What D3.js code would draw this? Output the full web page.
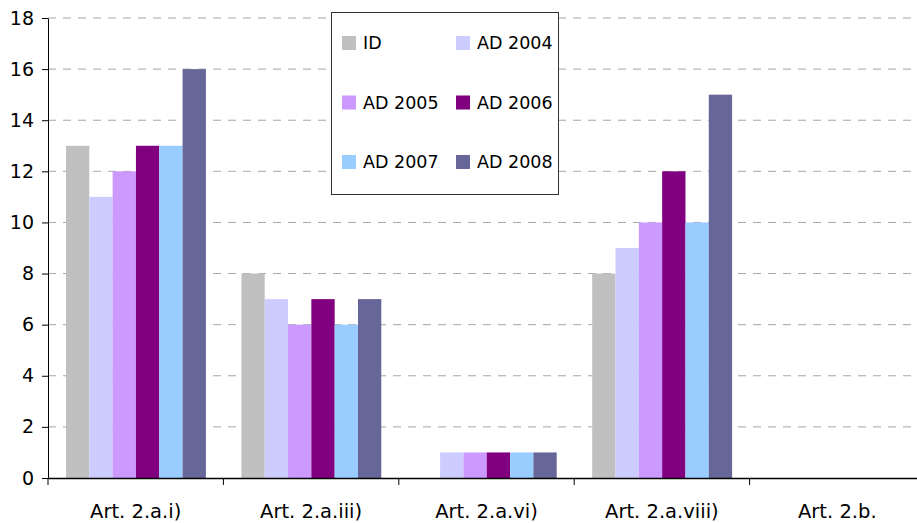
<!DOCTYPE html>
<html>
<head>
<meta charset="utf-8">
<script src="https://cdn.jsdelivr.net/npm/d3@7"></script>
<style>
  body { margin: 0; background: #fff; }
  text { font-family: "DejaVu Sans", sans-serif; fill: #000; }
</style>
</head>
<body>
<svg width="917" height="523"></svg>
<script>
const categories = ["Art. 2.a.i)", "Art. 2.a.iii)", "Art. 2.a.vi)", "Art. 2.a.viii)", "Art. 2.b."];
const seriesNames = ["ID", "AD 2004", "AD 2005", "AD 2006", "AD 2007", "AD 2008"];
const idVals = [13, 8, 0, 8, 0];
const ad2004 = [11, 7, 1, 9, 0];
const ad2005 = [12, 6, 1, 10, 0];
const ad2006 = [13, 7, 1, 12, 0];
const ad2007 = [13, 6, 1, 10, 0];
const ad2008 = [16, 7, 1, 15, 0];
const yTicks = [0, 2, 4, 6, 8, 10, 12, 14, 16, 18];
const colors = ["#C0C0C0", "#CCCCFF", "#CC99FF", "#800080", "#99CCFF", "#666699"];

const allSeries = [idVals, ad2004, ad2005, ad2006, ad2007, ad2008];

const svg = d3.select("svg");
const plotLeft = 48, plotRight = 925, plotTop = 18, plotBottom = 478;

const x = d3.scaleBand().domain(categories).range([plotLeft, plotRight]).paddingInner(0).paddingOuter(0);
const xInner = d3.scaleBand().domain(seriesNames).range([18, x.bandwidth() - 17.5]);
const y = d3.scaleLinear().domain([0, 18]).range([plotBottom, plotTop]);

// grid lines
svg.append("g")
  .selectAll("line")
  .data(yTicks.filter(d => d > 0))
  .enter().append("line")
  .attr("x1", plotLeft).attr("x2", 917)
  .attr("y1", d => y(d)).attr("y2", d => y(d))
  .attr("stroke", "#a6a6a6")
  .attr("stroke-width", 1)
  .attr("stroke-dasharray", "8,7");

// bars
const groups = svg.append("g")
  .selectAll("g")
  .data(categories)
  .enter().append("g")
  .attr("transform", d => `translate(${x(d)},0)`);

groups.selectAll("rect")
  .data((c, ci) => seriesNames.map((s, si) => ({s, si, v: allSeries[si][ci]})))
  .enter().append("rect")
  .attr("x", d => xInner(d.s))
  .attr("y", d => y(d.v))
  .attr("width", xInner.bandwidth())
  .attr("height", d => plotBottom - y(d.v))
  .attr("fill", d => colors[d.si]);

// y axis
const yAxis = svg.append("g")
  .attr("transform", `translate(${plotLeft},0)`)
  .call(d3.axisLeft(y).tickValues(yTicks).tickSize(6).tickPadding(8).tickSizeOuter(0));
yAxis.select(".domain").attr("stroke", "#000");
yAxis.selectAll("line").attr("stroke", "#000");
yAxis.selectAll("text")
  .style("font-size", "19px")
  .style("font-family", "'DejaVu Sans', sans-serif");

// x axis
const xAxis = svg.append("g")
  .attr("transform", `translate(0,${plotBottom})`)
  .call(d3.axisBottom(x).tickSize(0).tickPadding(26).tickSizeOuter(0));
xAxis.select(".domain").attr("stroke", "#000").attr("stroke-width", 1.5);
xAxis.selectAll("text")
  .style("font-size", "19.5px")
  .style("font-family", "'DejaVu Sans', sans-serif");

// x boundary ticks
svg.append("g")
  .selectAll("line")
  .data(categories)
  .enter().append("line")
  .attr("x1", d => x(d)).attr("x2", d => x(d))
  .attr("y1", plotBottom).attr("y2", plotBottom + 7)
  .attr("stroke", "#000");

// legend
const legend = svg.append("g");
legend.append("rect")
  .attr("x", 331.5).attr("y", 12.5)
  .attr("width", 227).attr("height", 182)
  .attr("fill", "#fff")
  .attr("stroke", "#333")
  .attr("stroke-width", 1);

const items = legend.selectAll("g.item")
  .data(seriesNames)
  .enter().append("g")
  .attr("class", "item")
  .attr("transform", (d, i) => `translate(${i % 2 === 0 ? 342 : 456},${43 + Math.floor(i / 2) * 59.5})`);

items.append("rect")
  .attr("x", 0).attr("y", -7)
  .attr("width", 14).attr("height", 14)
  .attr("fill", (d, i) => colors[i]);

items.append("text")
  .attr("x", 21).attr("y", 0)
  .attr("dy", "0.36em")
  .style("font-size", "17.5px")
  .text(d => d);
</script>
</body>
</html>
